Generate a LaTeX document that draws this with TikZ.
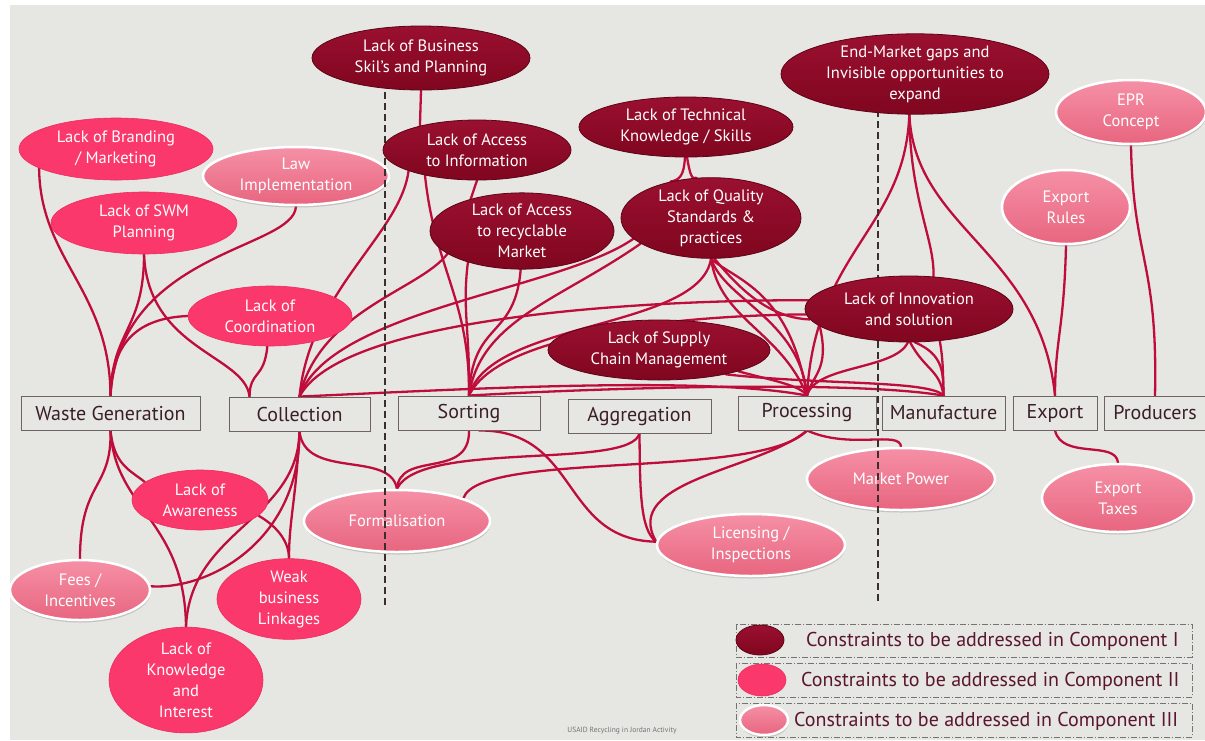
\documentclass[tikz,border=0pt]{standalone}
\usepackage{fontspec}
\setmainfont{PT Sans}
\usetikzlibrary{shapes.geometric,shadows}
\definecolor{bg}{HTML}{E6E6E2}
\definecolor{cItop}{HTML}{9A1030}
\definecolor{cIbot}{HTML}{80061F}
\definecolor{cIedge}{HTML}{5E0316}
\definecolor{cII}{HTML}{FB386B}
\definecolor{cIIedge}{HTML}{EE2A5E}
\definecolor{cIIItop}{HTML}{F590A6}
\definecolor{cIIIbot}{HTML}{E8657F}
\definecolor{linkc}{HTML}{BE0D3B}
\definecolor{boxedge}{HTML}{6E6262}
\definecolor{boxtext}{HTML}{3A1E28}
\definecolor{divc}{HTML}{3A2E2E}
\definecolor{legtext}{HTML}{5A1530}
\pgfdeclarelayer{back}
\pgfdeclarelayer{lines}
\pgfsetlayers{back,lines,main}
\begin{document}
\begin{tikzpicture}[x=1pt,y=-1pt,
  cone/.style={ellipse, inner sep=0pt, align=center, text=white,
    font=\fontsize{16.5}{21}\selectfont, top color=cItop, bottom color=cIbot,
    draw=cIedge, line width=0.8pt},
  ctwo/.style={ellipse, inner sep=0pt, align=center, text=white,
    font=\fontsize{16.5}{21}\selectfont, fill=cII, draw=cIIedge, line width=0.6pt},
  cthree/.style={ellipse, inner sep=0pt, align=center, text=white,
    font=\fontsize{16.5}{21}\selectfont, top color=cIIItop, bottom color=cIIIbot,
    draw=white, line width=2.5pt,
    drop shadow={shadow xshift=0.5pt, shadow yshift=-2.5pt, opacity=0.35}},
  stage/.style={draw=boxedge, fill=bg, line width=0.9pt, inner sep=0pt,
    font=\fontsize{20}{22}\selectfont, text=boxtext, minimum height=34pt},
  link/.style={draw=linkc, line width=2.3pt, line cap=round},
  divider/.style={draw=divc, line width=1.3pt, dash pattern=on 7pt off 4pt},
  legbox/.style={draw=black!55, line width=0.6pt,
    dash pattern=on 6pt off 2pt on 1pt off 2pt},
  legtxt/.style={anchor=west, text=legtext, font=\fontsize{20}{22}\selectfont, inner sep=0pt}]
\useasboundingbox (0,0) rectangle (1205,740);
\begin{pgfonlayer}{back}
  \fill[white] (0,0) rectangle (1205,740);
  \fill[bg] (10,5) rectangle (1205,740);
\end{pgfonlayer}

% value-chain stages
\node[stage, minimum width=179pt] (wg)   at (110.5,413) {Waste Generation};
\node[stage, minimum width=141pt] (col)  at (299.5,414) {Collection};
\node[stage, minimum width=142pt] (sort) at (469,413)   {Sorting};
\node[stage, minimum width=143pt] (aggr) at (639.5,416) {Aggregation};
\node[stage, minimum width=138pt] (proc) at (807,413)   {Processing};
\node[stage, minimum width=123pt] (manu) at (943.5,413) {Manufacture};
\node[stage, minimum width=84pt]  (exp)  at (1055,413)  {Export};
\node[stage, minimum width=101pt] (prod) at (1155,413)  {Producers};

% component III constraints
\node[cthree, minimum width=186pt, minimum height=58pt] (law)    at (296,176)  {Law\\Implementation};
\node[cthree, minimum width=140pt, minimum height=60pt] (fees)   at (80,590)   {Fees /\\Incentives};
\node[cthree, minimum width=186pt, minimum height=62pt] (formal) at (397,521)  {Formalisation};
\node[cthree, minimum width=188pt, minimum height=62pt] (lic)    at (751,545)  {Licensing /\\Inspections};
\node[cthree, minimum width=188pt, minimum height=62pt] (market) at (901,479)  {Market Power};
\node[cthree, minimum width=128pt, minimum height=74pt] (rules)  at (1066,207) {Export\\Rules};
\node[cthree, minimum width=150pt, minimum height=64pt] (epr)    at (1131,112) {EPR\\Concept};
\node[cthree, minimum width=152pt, minimum height=68pt] (taxes)  at (1118,498) {Export\\Taxes};

% stage dividers
\draw[divider] (385,92) -- (385,605);
\draw[divider] (878,110) -- (878,603);

% component II constraints
\node[ctwo, minimum width=194pt, minimum height=62pt] (brand) at (116,149) {Lack of Branding\\/ Marketing};
\node[ctwo, minimum width=186pt, minimum height=62pt] (swm)   at (144,223) {Lack of SWM\\Planning};
\node[ctwo, minimum width=164pt, minimum height=60pt] (coord) at (270,316) {Lack of\\Coordination};
\node[ctwo, minimum width=136pt, minimum height=60pt] (aware) at (200,500) {Lack of\\Awareness};
\node[ctwo, minimum width=144pt, minimum height=68pt] (weak)  at (289,599) {Weak\\business\\Linkages};
\node[ctwo, minimum width=154pt, minimum height=90pt] (know)  at (186,680) {Lack of\\Knowledge\\and\\Interest};

% component I constraints
\node[cone, minimum width=218pt, minimum height=64pt] (bus)     at (421,58)  {Lack of Business\\Skil's and Planning};
\node[cone, minimum width=188pt, minimum height=60pt] (accinfo) at (477,150) {Lack of Access\\to Information};
\node[cone, minimum width=184pt, minimum height=64pt] (accrec)  at (522,231) {Lack of Access\\to recyclable\\Market};
\node[cone, minimum width=214pt, minimum height=60pt] (tech)    at (686,127) {Lack of Technical\\Knowledge / Skills};
\node[cone, minimum width=180pt, minimum height=62pt] (quality) at (711,218) {Lack of Quality\\Standards \&\\practices};
\node[cone, minimum width=222pt, minimum height=60pt] (supply)  at (659,350) {Lack of Supply\\Chain Management};
\node[cone, minimum width=268pt, minimum height=70pt] (endm)    at (915,74)  {End-Market gaps and\\Invisible opportunities to\\expand};
\node[cone, minimum width=208pt, minimum height=66pt] (innov)   at (909,309) {Lack of Innovation\\and solution};

\begin{pgfonlayer}{lines}
  % links from above into the stages
  \draw[link] (brand.194) .. controls (40,260) and (110,290) .. (wg.north);
  \draw[link] (swm.270) .. controls (144,330) and (112,330) .. (wg.north);
  \draw[link] (swm.270) .. controls (148,350) and (245,355) .. ([xshift=-50pt]col.north);
  \draw[link] (law.270) .. controls (294,250) and (120,250) .. (wg.north);
  \draw[link] (coord.180) .. controls (140,318) and (112,340) .. (wg.north);
  \draw[link] (coord.265) .. controls (264,380) and (250,370) .. ([xshift=-50pt]col.north);

  \draw[link] (col.north) .. controls (310,290) and (400,235) .. (accinfo.197);
  \draw[link] (col.north) .. controls (320,310) and (420,290) .. (accrec.197);
  \draw[link] (col.north) .. controls (330,310) and (560,290) .. (quality.195);
  \draw[link] (col.north) .. controls (340,320) and (620,300) .. (innov.175);
  \draw[link] (col.north) .. controls (450,390) and (700,375) .. (proc.north);
  \draw[link] (sort.north) .. controls (600,388) and (850,380) .. (manu.north);

  \draw[link] (bus.270) -- (accinfo.157);
  \draw[link] (accinfo.270) -- (accrec.148);
  \draw[link] (accinfo.206) .. controls (435,270) and (470,300) .. (sort.north);
  \draw[link] (accrec.210) .. controls (462,310) and (470,330) .. (sort.north);
  \draw[link] (accrec.268) .. controls (515,340) and (472,320) .. (sort.north);
  \draw[link] (quality.200) .. controls (560,300) and (480,320) .. (sort.north);
  \draw[link] (quality.270) .. controls (700,330) and (490,320) .. (sort.north);
  \draw[link] (sort.north) .. controls (500,330) and (700,315) .. (innov.183);

  \draw[link] (tech.268) .. controls (684,175) and (680,180) .. (quality.138);
  \draw[link] (tech.272) .. controls (690,175) and (692,180) .. (quality.110);
  \draw[link] (quality.270) .. controls (725,300) and (800,320) .. (proc.north);
  \draw[link] (quality.270) .. controls (735,280) and (790,290) .. (proc.north);
  \draw[link] (quality.270) .. controls (720,320) and (780,330) .. (proc.north);
  \draw[link] (quality.275) .. controls (740,290) and (770,318) .. (innov.186);

  \draw[link] (endm.262) .. controls (905,230) and (815,250) .. (proc.north);
  \draw[link] (endm.262) .. controls (910,200) and (935,240) .. (innov.53);
  \draw[link] (endm.262) .. controls (915,230) and (1040,250) .. (exp.north);

  \draw[link] (innov.191) .. controls (830,370) and (812,375) .. (proc.north);
  \draw[link] (innov.268) .. controls (895,370) and (815,365) .. (proc.north);
  \draw[link] (innov.272) .. controls (925,370) and (940,370) .. (manu.north);
  \draw[link] (innov.280) .. controls (945,355) and (943,375) .. (manu.north);
  \draw[link] (innov.314) .. controls (943,360) and (943,370) .. (manu.north);

  \draw[link] (supply.345) .. controls (770,380) and (800,385) .. (proc.north);
  \draw[link] (supply.340) .. controls (820,385) and (930,380) .. (manu.north);

  \draw[link] (rules.270) .. controls (1064,330) and (1055,340) .. (exp.north);
  \draw[link] (epr.270) .. controls (1133,260) and (1158,260) .. (prod.north);

  % links below the stages
  \draw[link] (wg.south) .. controls (112,490) and (80,480) .. (fees.90);
  \draw[link] (wg.south) .. controls (114,465) and (130,470) .. (aware.162);
  \draw[link] (wg.south) .. controls (115,510) and (185,520) .. (know.90);
  \draw[link] (col.south) .. controls (300,540) and (210,590) .. (fees.3);
  \draw[link] (col.south) .. controls (298,520) and (190,530) .. (know.90);
  \draw[link] (col.south) .. controls (296,500) and (289,520) .. (weak.90);
  \draw[link] (aware.345) .. controls (275,525) and (289,540) .. (weak.90);
  \draw[link] (col.south) .. controls (305,480) and (390,450) .. (formal.90);
  \draw[link] (sort.south) .. controls (470,480) and (400,450) .. (formal.90);
  \draw[link] (aggr.south) .. controls (630,470) and (420,440) .. (formal.90);
  \draw[link] (proc.south) .. controls (760,480) and (480,450) .. (formal.19);
  \draw[link] ([xshift=10pt]sort.south) .. controls (580,430) and (560,540) .. (lic.178);
  \draw[link] (aggr.south) .. controls (640,490) and (640,530) .. (lic.178);
  \draw[link] (proc.south) .. controls (760,470) and (620,480) .. (lic.178);
  \draw[link] (proc.south) .. controls (850,450) and (900,430) .. (market.90);
  \draw[link] (exp.south) .. controls (1062,460) and (1116,440) .. (taxes.90);
\end{pgfonlayer}

% key
\draw[legbox] (736,624) rectangle (1192,657);
\draw[legbox] (736,663) rectangle (1192,697);
\draw[legbox] (736,703) rectangle (1192,737);
\node[cone, minimum width=48pt, minimum height=30pt] (k1) at (760,640) {};
\node[ctwo, minimum width=48pt, minimum height=32pt] (k2) at (762,680) {};
\node[cthree, minimum width=48pt, minimum height=30pt] (k3) at (764,720) {};
\node[legtxt] (t1) at (806,641) {Constraints to be addressed in Component I};
\node[legtxt] (t2) at (801,681) {Constraints to be addressed in Component II};
\node[legtxt] (t3) at (794,721) {Constraints to be addressed in Component III};

\node[font=\fontsize{7.5}{9}\selectfont, text=black!55] (credit) at (622,731) {USAID Recycling in Jordan Activity};
\end{tikzpicture}
\end{document}
